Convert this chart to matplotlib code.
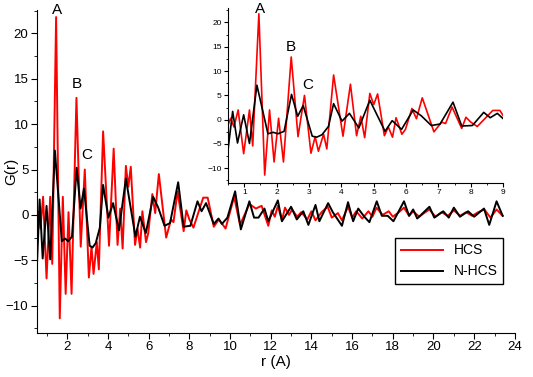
import matplotlib.pyplot as plt
from matplotlib.ticker import MultipleLocator

plt.rcParams['font.family'] = ['Liberation Sans', 'DejaVu Sans']

# HCS (red) - r (A), G(r) read at peaks/troughs
r_hcs = [0.50, 0.58, 0.68, 0.81, 0.98, 1.16, 1.26, 1.45, 1.63, 1.78, 1.92, 2.06, 2.21,
         2.45, 2.66, 2.86, 3.06, 3.19, 3.29, 3.45, 3.55, 3.76, 4.05, 4.28, 4.47, 4.60,
         4.72, 4.88, 5.00, 5.12, 5.33, 5.45, 5.58, 5.69, 5.87, 5.98, 6.18, 6.32, 6.50,
         6.86, 7.10, 7.22, 7.42, 7.72, 7.85, 8.00, 8.20, 8.68, 8.90, 9.20, 9.45, 9.78,
         10.20, 10.49, 10.95, 11.27, 11.55, 11.88, 12.05, 12.20, 12.35, 12.55, 12.70,
         12.90, 13.05, 13.30, 13.50, 13.80, 14.00, 14.20, 14.50, 14.80, 15.00, 15.30,
         15.50, 15.80, 16.00, 16.20, 16.50, 16.80, 17.00, 17.20, 17.50, 17.80, 18.00,
         18.30, 18.55, 18.80, 19.00, 19.30, 19.60, 19.80, 20.10, 20.40, 20.70, 21.00,
         21.30, 21.60, 21.90, 22.20, 22.50, 22.80, 23.10, 23.40]
g_hcs = [-1.0, 0.3, -1.5, 2.0, -7.0, 2.0, -5.4, 21.8, -11.4, 2.0, -8.7, 0.3, -8.7,
         12.9, -3.5, 5.0, -6.9, -3.5, -6.5, -3.0, -6.0, 9.2, -3.4, 7.3, -3.3, 0.7,
         -3.7, 5.4, 3.1, 5.3, -3.3, -1.5, -3.6, 0.4, -3.0, -2.0, 2.3, 0.2, 4.5,
         -2.5, -0.5, -0.8, 2.6, -1.8, 0.5, -0.5, -1.4, 1.9, 1.9, -1.3, -0.5, -1.5,
         2.0, -1.1, 1.2, 0.7, 1.0, -1.2, 0.5, -0.2, 1.0, -0.6, 0.8,
         0.0, 0.6, -0.2, 0.3, -0.5, 0.4, -0.6, 0.3, 0.9, -0.3, 0.2,
         -0.6, 0.9, -0.3, 0.4, -0.4, 0.4, -0.2, 0.8, 0.0, 0.4, -0.2,
         0.3, 0.8, -0.1, 0.4, -0.2, 0.3, 0.6, -0.2, 0.3, -0.1, 0.5,
         -0.1, 0.3, -0.1, 0.3, 0.6, -0.3, 0.6, -0.1]

# N-HCS (black)
r_nhcs = [0.50, 0.64, 0.79, 0.98, 1.16, 1.39, 1.73, 1.89, 2.04, 2.23, 2.46, 2.65, 2.82,
          3.10, 3.24, 3.40, 3.60, 3.76, 4.02, 4.25, 4.54, 4.88, 5.35, 5.57, 5.86, 6.22,
          6.47, 6.78, 7.05, 7.45, 7.72, 8.05, 8.40, 8.60, 8.82, 9.20, 9.43, 9.60, 9.87,
          10.25, 10.53, 10.95, 11.18, 11.40, 11.69, 11.88, 12.35, 12.55, 13.00, 13.28,
          13.60, 13.85, 14.20, 14.39, 14.82, 15.05, 15.50, 15.80, 16.05, 16.30, 16.60,
          16.85, 17.21, 17.46, 17.75, 18.03, 18.55, 18.80, 19.00, 19.20, 19.80, 20.04,
          20.48, 20.75, 21.00, 21.30, 21.70, 22.00, 22.48, 22.74, 23.10, 23.40]
g_nhcs = [-6.0, 1.7, -4.8, 1.0, -4.9, 7.1, -2.9, -2.6, -2.9, -2.4, 5.2, 0.7, 2.9,
          -3.4, -3.6, -3.1, -1.4, 3.3, -0.3, 1.3, -1.7, 4.0, -2.4, -0.2, -2.0, 2.0,
          0.8, -1.2, -0.9, 3.6, -1.3, -1.2, 1.5, 0.4, 1.3, -1.0, -0.4, -1.0, -0.3,
          2.6, -1.6, 1.5, -0.3, -0.3, 0.7, -0.7, 1.6, -0.7, 0.9, -0.5,
          0.4, -1.1, 1.1, -0.7, 1.3, 0.3, -1.2, 1.4, -0.7, 0.7, -0.2,
          -0.8, 1.5, -0.1, -0.1, -0.7, 1.5, -0.1, 0.6, -0.4, 0.9, -0.3,
          0.4, -0.3, 0.8, -0.2, 0.4, -0.2, 0.7, -1.1, 1.5, -0.1]

peak_names = ['A', 'B', 'C']
peak_r = [1.5, 2.45, 2.95]
peak_g_main = [22.6, 14.4, 6.6]
peak_g_inset = [22.8, 15.0, 7.1]

fig = plt.figure(figsize=(5.33, 3.77), dpi=100)
ax = fig.add_axes([0.069, 0.117, 0.897, 0.857])

ax.plot(r_hcs, g_hcs, color='red', lw=1.4, label='HCS')
ax.plot(r_nhcs, g_nhcs, color='black', lw=1.4, label='N-HCS')
for name, x, y in zip(peak_names, peak_r, peak_g_main):
    ax.text(x, y, name, fontsize=11, ha='center', va='center')

ax.set_xlim(0.5, 24)
ax.set_ylim(-13, 22.6)
ax.xaxis.set_major_locator(MultipleLocator(2))
ax.xaxis.set_minor_locator(MultipleLocator(1))
ax.yaxis.set_major_locator(MultipleLocator(5))
ax.yaxis.set_minor_locator(MultipleLocator(2.5))
ax.spines['top'].set_visible(False)
ax.spines['right'].set_visible(False)
ax.tick_params(labelsize=9.5, length=4, pad=2)
ax.tick_params(which='minor', length=2)
ax.set_xticks(range(2, 25, 2))
ax.set_xlabel('r (A)', fontsize=11, labelpad=1)
ax.set_ylabel('G(r)', fontsize=11)
ax.yaxis.set_label_coords(-0.038, 0.5)
ax.legend(loc='lower right', bbox_to_anchor=(0.99, 0.13), fontsize=10,
          fancybox=False, edgecolor='black', framealpha=1, handlelength=3)

# inset
axi = fig.add_axes([0.428, 0.515, 0.516, 0.464])
axi.plot(r_hcs, g_hcs, color='red', lw=1.2)
axi.plot(r_nhcs, g_nhcs, color='black', lw=1.2)
for name, x, y in zip(peak_names, peak_r, peak_g_inset):
    axi.text(x, y, name, fontsize=11, ha='center', va='center')
axi.set_xlim(0.5, 9)
axi.set_ylim(-13, 23)
axi.xaxis.set_major_locator(MultipleLocator(1))
axi.xaxis.set_minor_locator(MultipleLocator(0.5))
axi.yaxis.set_major_locator(MultipleLocator(5))
axi.yaxis.set_minor_locator(MultipleLocator(2.5))
axi.set_xticks(range(1, 10))
axi.spines['top'].set_visible(False)
axi.spines['right'].set_visible(False)
axi.patch.set_alpha(0)
axi.tick_params(labelsize=6, length=3, pad=1.5)
axi.tick_params(which='minor', length=1.5)

fig.savefig('out.png', dpi=100)
